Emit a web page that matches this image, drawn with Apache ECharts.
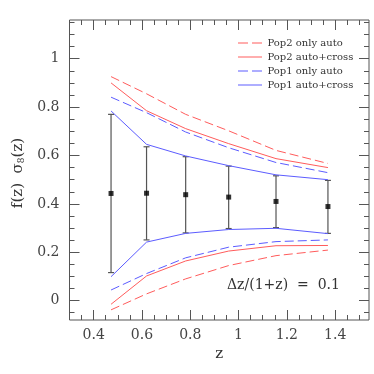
<!DOCTYPE html>
<html>
<head>
<meta charset="utf-8">
<script src="https://cdn.jsdelivr.net/npm/echarts@6/dist/echarts.min.js"></script>
<style>
  html, body { margin: 0; padding: 0; background: #fff; }
  #main { width: 374px; height: 374px; }
</style>
</head>
<body>
<div id="main"></div>
<script>
// redshift bin centres
const zBins = [0.472, 0.619, 0.781, 0.959, 1.155, 1.370];
// fiducial f sigma8 with error bars
const fsValue = [0.443, 0.444, 0.438, 0.428, 0.410, 0.389];
const fsHigh = [0.770, 0.636, 0.595, 0.556, 0.516, 0.497];
const fsLow = [0.116, 0.251, 0.280, 0.298, 0.302, 0.278];
// forecast envelopes
const pop2AutoHigh = [0.926, 0.855, 0.770, 0.702, 0.621, 0.567];
const pop2AutoLow = [-0.038, 0.028, 0.090, 0.145, 0.186, 0.209];
const pop2CrossHigh = [0.900, 0.785, 0.711, 0.649, 0.587, 0.550];
const pop2CrossLow = [-0.015, 0.102, 0.164, 0.205, 0.227, 0.228];
const pop1AutoHigh = [0.841, 0.777, 0.697, 0.632, 0.571, 0.529];
const pop1AutoLow = [0.044, 0.112, 0.177, 0.221, 0.244, 0.251];
const pop1CrossHigh = [0.784, 0.646, 0.598, 0.558, 0.520, 0.500];
const pop1CrossLow = [0.099, 0.242, 0.278, 0.294, 0.299, 0.277];
// ticks
const xMajor = [0.4, 0.6, 0.8, 1, 1.2, 1.4];
const xMinor = [0.3, 0.35, 0.45, 0.5, 0.55, 0.65, 0.7, 0.75, 0.85, 0.9, 0.95, 1.05, 1.1, 1.15, 1.25, 1.3, 1.35, 1.45, 1.5];
const yMajor = [0, 0.2, 0.4, 0.6, 0.8, 1];
const yMinor = [-0.05, 0.05, 0.1, 0.15, 0.25, 0.3, 0.35, 0.45, 0.5, 0.55, 0.65, 0.7, 0.75, 0.85, 0.9, 0.95, 1.05, 1.1, 1.15];

const RED = '#ff5c5c';
const BLUE = '#5c5cff';
const FONT = 'DejaVu Serif';
const DASH_ICON = 'path://M0,0H10V1H0Z M14,0H24V1H14Z';
const SOLID_ICON = 'path://M0,0H24V1H0Z';

const pts = arr => zBins.map((z, i) => [z, arr[i]]);

function tickAxis(pos, values, len, extra) {
    return Object.assign({
        type: 'value',
        position: pos,
        axisLine: { show: false, onZero: false },
        splitLine: { show: false },
        axisTick: { show: true, inside: true, length: len, customValues: values, lineStyle: { color: '#555' } },
        axisLabel: { show: false }
    }, extra || {});
}

const chart = echarts.init(document.getElementById('main'));

const xExtent = { min: 0.3, max: 1.54 };
const yExtent = { min: -0.08, max: 1.16 };

const lineSeries = (name, color, dashed, arr) => ({
    name: name,
    type: 'line',
    data: pts(arr),
    symbol: 'none',
    silent: true,
    lineStyle: { color: color, width: 1, type: dashed ? [9, 4] : 'solid' },
    itemStyle: { color: color }
});

chart.setOption({
    backgroundColor: '#fff',
    animation: false,
    grid: { left: 69.5, right: 5, top: 20, bottom: 54, show: true, borderColor: '#555', borderWidth: 1, backgroundColor: 'transparent' },
    legend: {
        orient: 'vertical',
        left: 233,
        top: 32,
        itemWidth: 25,
        itemHeight: 1,
        itemGap: 2,
        data: [
            { name: 'Pop2 only auto', icon: DASH_ICON },
            { name: 'Pop2 auto+cross', icon: SOLID_ICON },
            { name: 'Pop1 only auto', icon: DASH_ICON },
            { name: 'Pop1 auto+cross', icon: SOLID_ICON }
        ],
        textStyle: { fontFamily: FONT, fontSize: 10, lineHeight: 12, color: '#333' }
    },
    xAxis: [
        Object.assign(tickAxis('bottom', xMajor, 10, {
            name: 'z',
            nameLocation: 'middle',
            nameGap: 23,
            nameTextStyle: { fontFamily: FONT, fontSize: 15, color: '#333' },
            axisLabel: { show: true, customValues: xMajor, margin: 8, fontFamily: FONT, fontSize: 14, color: '#444' }
        }), xExtent),
        Object.assign(tickAxis('bottom', xMinor, 5), xExtent),
        Object.assign(tickAxis('top', xMajor, 10), xExtent),
        Object.assign(tickAxis('top', xMinor, 5), xExtent)
    ],
    yAxis: [
        Object.assign(tickAxis('left', yMajor, 10, {
            axisLabel: { show: true, customValues: yMajor, margin: 10, fontFamily: FONT, fontSize: 14, color: '#444' }
        }), yExtent),
        Object.assign(tickAxis('left', yMinor, 5), yExtent),
        Object.assign(tickAxis('right', yMajor, 10), yExtent),
        Object.assign(tickAxis('right', yMinor, 5), yExtent)
    ],
    series: [
        lineSeries('Pop2 only auto', RED, true, pop2AutoHigh),
        lineSeries('Pop2 only auto', RED, true, pop2AutoLow),
        lineSeries('Pop2 auto+cross', RED, false, pop2CrossHigh),
        lineSeries('Pop2 auto+cross', RED, false, pop2CrossLow),
        lineSeries('Pop1 only auto', BLUE, true, pop1AutoHigh),
        lineSeries('Pop1 only auto', BLUE, true, pop1AutoLow),
        lineSeries('Pop1 auto+cross', BLUE, false, pop1CrossHigh),
        lineSeries('Pop1 auto+cross', BLUE, false, pop1CrossLow),
        {
            type: 'custom',
            silent: true,
            data: zBins.map((z, i) => [z, fsLow[i], fsHigh[i]]),
            renderItem: (params, api) => {
                const lo = api.coord([api.value(0), api.value(1)]);
                const hi = api.coord([api.value(0), api.value(2)]);
                const w = 3;
                const style = { stroke: '#555', lineWidth: 1.2 };
                return {
                    type: 'group',
                    children: [
                        { type: 'line', shape: { x1: lo[0], y1: lo[1], x2: hi[0], y2: hi[1] }, style: style },
                        { type: 'line', shape: { x1: lo[0] - w, y1: lo[1], x2: lo[0] + w, y2: lo[1] }, style: style },
                        { type: 'line', shape: { x1: hi[0] - w, y1: hi[1], x2: hi[0] + w, y2: hi[1] }, style: style }
                    ]
                };
            }
        },
        {
            type: 'scatter',
            silent: true,
            data: pts(fsValue),
            symbol: 'rect',
            symbolSize: 5,
            itemStyle: { color: '#000' }
        }
    ],
    graphic: [
        {
            type: 'text',
            left: 227,
            top: 278,
            style: { text: 'Δz/(1+z)  =  0.1', fontFamily: FONT, fontSize: 14, fill: '#333' }
        },
        {
            type: 'text',
            x: 18,
            y: 173,
            rotation: Math.PI / 2,
            style: {
                text: 'f(z)  σ{sub|8}(z)',
                fontFamily: FONT,
                fontSize: 15,
                fill: '#333',
                align: 'center',
                verticalAlign: 'middle',
                rich: { sub: { fontFamily: FONT, fontSize: 9, fill: '#333', verticalAlign: 'bottom', padding: [8, 0, 0, 0] } }
            }
        }
    ]
});
</script>
</body>
</html>
